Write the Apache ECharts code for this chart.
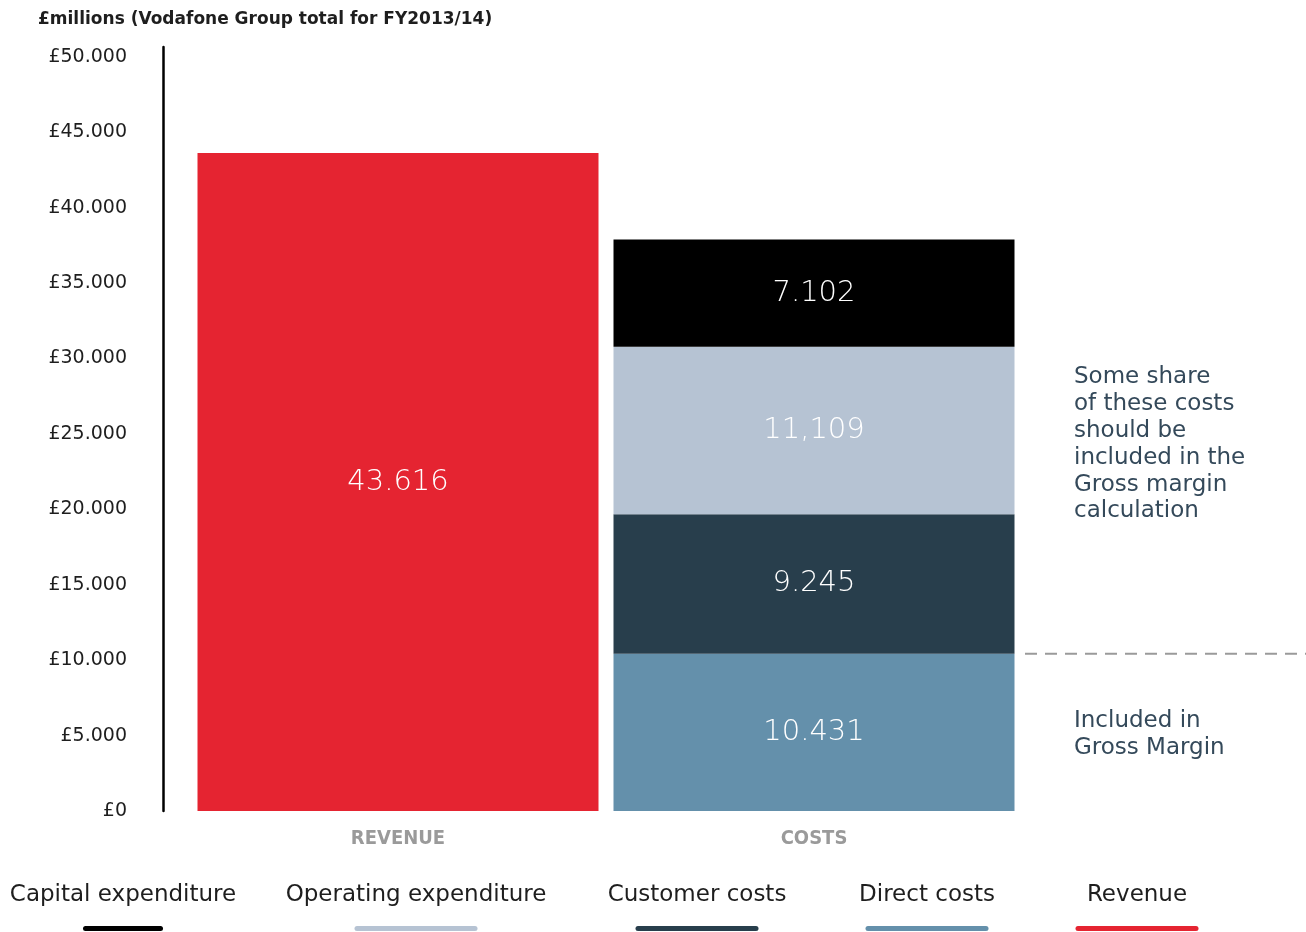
<!DOCTYPE html>
<html>
<head>
<meta charset="utf-8">
<title>Vodafone Group revenue and costs FY2013/14</title>
<script src="https://cdn.jsdelivr.net/npm/echarts@6/dist/echarts.min.js"></script>
<style>
  html, body { margin: 0; padding: 0; background: #fff; }
  #chart { width: 1306px; height: 932px; }
</style>
</head>
<body>
<div id="chart"></div>
<script>
// Categories along the x axis
const categories = ['REVENUE', 'COSTS'];

// Revenue bar (first category only)
const revenue = [43616, null];

// Cost components, stacked bottom to top in the COSTS column
const directCosts = [null, 10431];
const customerCosts = [null, 9245];
const operatingExpenditure = [null, 11109];
const capitalExpenditure = [null, 7102];

// Value labels as printed on the bars
const revenueLabel = '43.616';
const directCostsLabel = '10.431';
const customerCostsLabel = '9.245';
const operatingExpenditureLabel = '11,109';
const capitalExpenditureLabel = '7.102';

// Y axis ticks
const yTickStep = 5000;
const yTickMax = 50000;

// Legend order as displayed along the bottom
const legendNames = ['Capital expenditure', 'Operating expenditure', 'Customer costs', 'Direct costs', 'Revenue'];

// Boundary between cost shares used for the dashed divider
const grossMarginBoundary = directCosts[1];

const COLORS = {
  'Capital expenditure': '#000000',
  'Operating expenditure': '#b6c3d3',
  'Customer costs': '#283e4c',
  'Direct costs': '#6490ab',
  'Revenue': '#e52431'
};

const FONT = '"DejaVu Sans", "Noto Sans", sans-serif';
const TEXT_DARK = '#1e1e1e';
const NOTE_COLOR = '#34495a';

function thousands(v) {
  return String(v).replace(/\B(?=(\d{3})+(?!\d))/g, '.');
}

function barLabel(text) {
  return {
    show: true,
    position: 'inside',
    formatter: () => text,
    color: '#ffffff',
    fontFamily: FONT,
    fontSize: 29,
    fontWeight: 'lighter'
  };
}

function stackSeries(name, data, labelText) {
  return {
    name: name,
    type: 'bar',
    stack: 'total',
    data: data,
    barWidth: 401,
    itemStyle: { color: COLORS[name] },
    label: barLabel(labelText),
    emphasis: { disabled: true }
  };
}

const chart = echarts.init(document.getElementById('chart'), null, { renderer: 'canvas' });

chart.setOption({
  animation: false,
  backgroundColor: '#ffffff',
  title: {
    text: '£millions (Vodafone Group total for FY2013/14)',
    left: 33,
    top: 6,
    textStyle: { fontFamily: FONT, fontSize: 17, fontWeight: 'bold', color: TEXT_DARK }
  },
  grid: { left: 190, right: 284, top: 47, bottom: 121, containLabel: false },
  xAxis: {
    type: 'category',
    data: categories,
    axisLine: { show: false },
    axisTick: { show: false },
    axisLabel: {
      margin: 18,
      color: '#9a9a9a',
      fontFamily: '"Liberation Sans Narrow", "DejaVu Sans Condensed", sans-serif',
      fontWeight: 'bold',
      fontSize: 20
    }
  },
  yAxis: {
    type: 'value',
    min: 0,
    max: 50650,
    interval: yTickStep,
    offset: 27,
    splitLine: { show: false },
    axisTick: { show: false },
    axisLine: { show: true, lineStyle: { color: '#000', width: 2.5 } },
    axisLabel: {
      margin: 36,
      showMaxLabel: false,
      color: TEXT_DARK,
      fontFamily: FONT,
      fontSize: 19,
      formatter: v => (v <= yTickMax ? '£' + thousands(v) : '')
    }
  },
  series: [
    stackSeries('Revenue', revenue, revenueLabel),
    stackSeries('Direct costs', directCosts, directCostsLabel),
    stackSeries('Customer costs', customerCosts, customerCostsLabel),
    stackSeries('Operating expenditure', operatingExpenditure, operatingExpenditureLabel),
    stackSeries('Capital expenditure', capitalExpenditure, capitalExpenditureLabel)
  ]
});

// Annotations and bottom key, placed after the axes are laid out
const dividerY = chart.convertToPixel({ yAxisIndex: 0 }, grossMarginBoundary);
const legendCenters = [123, 416, 697, 927, 1137];
const legendBarWidths = [80, 123, 123, 123, 123];

const graphics = [
  {
    type: 'line',
    shape: { x1: 1025, y1: dividerY, x2: 1306, y2: dividerY },
    style: { stroke: '#9a9a9a', lineWidth: 2, lineDash: [12, 8] },
    silent: true
  },
  {
    type: 'text',
    left: 1074,
    top: 364,
    style: {
      text: 'Some share\nof these costs\nshould be\nincluded in the\nGross margin\ncalculation',
      fill: NOTE_COLOR,
      font: '23px ' + FONT,
      lineHeight: 26.8
    },
    silent: true
  },
  {
    type: 'text',
    left: 1074,
    top: 708,
    style: {
      text: 'Included in\nGross Margin',
      fill: NOTE_COLOR,
      font: '23px ' + FONT,
      lineHeight: 26.8
    },
    silent: true
  }
];

legendNames.forEach((name, i) => {
  graphics.push({
    type: 'text',
    x: legendCenters[i],
    y: 895,
    style: {
      text: name,
      fill: TEXT_DARK,
      font: '23px ' + FONT,
      align: 'center',
      verticalAlign: 'middle'
    },
    silent: true
  });
  graphics.push({
    type: 'rect',
    shape: { x: legendCenters[i] - legendBarWidths[i] / 2, y: 926, width: legendBarWidths[i], height: 5, r: 2.5 },
    style: { fill: COLORS[name] },
    silent: true
  });
});

chart.setOption({ graphic: graphics });
</script>
</body>
</html>
